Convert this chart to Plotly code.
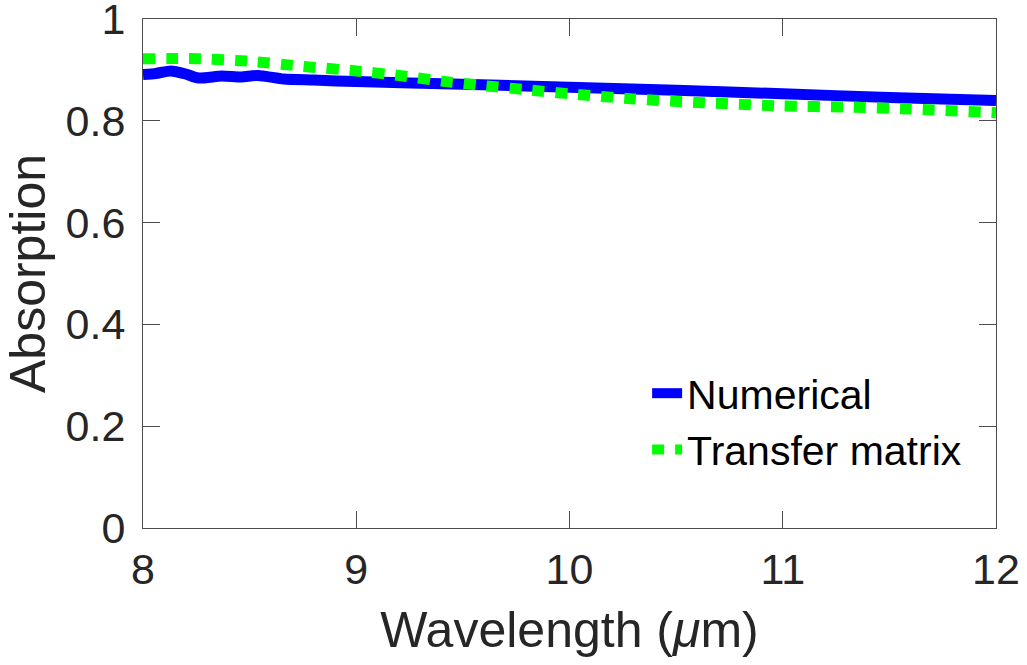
import plotly.graph_objects as go

# Absorption spectra: full numerical simulation vs. transfer-matrix model
num_wavelength = [8.0, 8.06, 8.13, 8.2, 8.26, 8.37, 8.46, 8.54, 8.66, 8.8, 9.0, 9.5, 10.0, 10.5, 11.0, 11.5, 12.0]
num_absorption = [0.891, 0.893, 0.898, 0.892, 0.884, 0.888, 0.886, 0.889, 0.882, 0.880, 0.877, 0.872, 0.866, 0.860, 0.853, 0.846, 0.840]

tm_wavelength = [8.0, 8.25, 8.5, 8.75, 9.0, 9.2, 9.4, 9.6, 9.8, 10.0, 10.3, 10.6, 11.0, 11.3, 11.6, 12.0]
tm_absorption = [0.922, 0.922, 0.917, 0.907, 0.898, 0.889, 0.878, 0.869, 0.861, 0.853, 0.843, 0.836, 0.829, 0.827, 0.823, 0.816]

x_ticks = [8, 9, 10, 11, 12]
y_ticks = [0, 0.2, 0.4, 0.6, 0.8, 1]
y_tick_text = ["0", "0.2", "0.4", "0.6", "0.8", "1"]

FONT = "Arial, Liberation Sans, Helvetica, sans-serif"
INK = "#262626"

fig = go.Figure()
fig.add_trace(go.Scatter(
    x=num_wavelength, y=num_absorption, mode="lines", name="Numerical",
    line=dict(color="#0000ff", width=11, shape="spline", smoothing=0.6),
))
fig.add_trace(go.Scatter(
    x=tm_wavelength, y=tm_absorption, mode="lines", name="Transfer matrix",
    line=dict(color="#00ff00", width=11, dash="12px,11px", shape="spline", smoothing=0.6),
))

axis_common = dict(
    showline=True, linecolor="#4d4d4d", linewidth=1, mirror="ticks",
    ticks="inside", ticklen=17, tickwidth=1, tickcolor="#4d4d4d",
    showgrid=False, zeroline=False, automargin=False,
    ticklabeloverflow="allow",
    tickfont=dict(family=FONT, size=43, color=INK),
)

fig.update_xaxes(
    range=[8, 12], tickvals=x_ticks, ticktext=[str(v) for v in x_ticks],
    ticklabelstandoff=3,
    title=dict(text="Wavelength (<i>μ</i>m)", font=dict(family=FONT, size=50, color=INK), standoff=20),
    **axis_common,
)
fig.update_yaxes(
    range=[0, 1], tickvals=y_ticks, ticktext=y_tick_text,
    ticklabelstandoff=8,
    title=dict(text="Absorption", font=dict(family=FONT, size=50, color=INK), standoff=12),
    **axis_common,
)

fig.update_layout(
    width=1027, height=665,
    margin=dict(l=143, r=31, t=19, b=137, autoexpand=False),
    paper_bgcolor="white", plot_bgcolor="white",
    showlegend=True,
    legend=dict(
        x=0.591, y=0.33, xanchor="left", yanchor="top",
        bgcolor="rgba(255,255,255,0)", borderwidth=0,
        font=dict(family=FONT, size=41, color="black"),
        tracegroupgap=0, itemwidth=30,
    ),
)

fig.write_html("out.html")
